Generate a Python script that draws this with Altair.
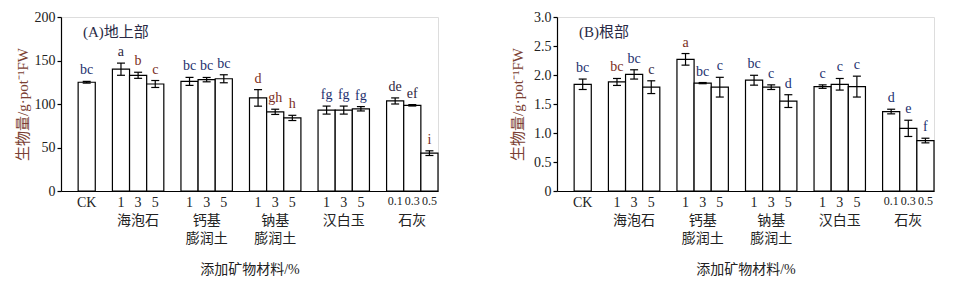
import altair as alt
import pandas as pd

# ---- data ----
groups = ["CK", "海泡石", "钙基\n膨润土", "钠基\n膨润土", "汉白玉", "石灰"]
doses = [["CK"], ["1", "3", "5"], ["1", "3", "5"], ["1", "3", "5"], ["1", "3", "5"], ["0.1", "0.3", "0.5"]]

shoot_mean = [125, 140, 133, 123, 126, 128, 129, 107, 91, 84, 93, 93, 94.5, 103.5, 98.5, 43.5]
shoot_err = [1, 7, 3.5, 4, 4.6, 2.5, 4.6, 9.5, 3, 3, 4.6, 4.6, 2.5, 3.5, 0.8, 2.7]
shoot_letters = ["bc", "a", "b", "c", "bc", "bc", "bc", "d", "gh", "h", "fg", "fg", "fg", "de", "ef", "i"]
shoot_tone = ["blue", "dark", "red", "red", "blue", "blue", "blue", "red", "red", "red",
              "blue", "blue", "blue", "dark", "dark", "red"]

root_mean = [1.84, 1.88, 2.01, 1.79, 2.27, 1.86, 1.79, 1.91, 1.79, 1.55, 1.80, 1.84, 1.80, 1.37, 1.08, 0.87]
root_err = [0.09, 0.06, 0.08, 0.11, 0.10, 0.01, 0.17, 0.085, 0.04, 0.11, 0.03, 0.10, 0.18, 0.04, 0.14, 0.04]
root_letters = ["bc", "bc", "bc", "c", "a", "bc", "c", "bc", "c", "d", "c", "c", "c", "d", "e", "f"]
root_tone = ["blue", "red", "blue", "dark", "red", "blue", "blue", "blue", "blue", "blue",
             "blue", "blue", "blue", "blue", "blue", "blue"]

shoot_ticks = [0, 50, 100, 150, 200]
root_ticks = [0, 0.5, 1.0, 1.5, 2.0, 2.5, 3.0]

# ---- build band domain with spacer slots ----
domain, keys, centers = [], [], []
for i, (g, ds) in enumerate(zip(groups, doses)):
    domain.append(" " * (i + 1))
    ks = ["CK"] if g == "CK" else [f"{i}|{d}" for d in ds]
    domain += ks
    keys += ks
    centers.append(ks[len(ks) // 2])

gdf = pd.DataFrame({"key": centers[1:], "name": groups[1:]})

FONT = "Liberation Serif, Noto Sans CJK SC"
tone_dom = ["blue", "red", "dark"]
tone_rng = ["#23306e", "#7a2d22", "#2e2540"]


def xenc():
    return alt.X(
        "key:N",
        scale=alt.Scale(domain=domain, paddingInner=0, paddingOuter=0),
        axis=alt.Axis(
            labelExpr="indexof(datum.value, '|') >= 0 ? split(datum.value, '|')[1] : datum.value",
            labelFontSize={"condition": {"test": "indexof(datum.value, '|0.') >= 0", "value": 12}, "value": 14},
            labelAngle=0, labelOverlap=False, ticks=False, labelPadding=4,
            domainColor="black", domainWidth=1.2, labelColor="#222",
            labelFont=FONT, title="添加矿物材料/%", titleFont=FONT, titleFontSize=14,
            titleFontWeight="normal", titleColor="#222", titlePadding=53,
        ),
    )


def yenc(field, ymax, ticks, tp, expr):
    return alt.Y(
        f"{field}:Q",
        scale=alt.Scale(domain=[0, ymax], nice=False),
        axis=alt.Axis(
            values=ticks, grid=False, tickSize=4, tickColor="black", tickWidth=1.2,
            domainColor="black", domainWidth=1.2, labelFontSize=14, labelFont=FONT,
            labelColor="#222", labelPadding=2, labelExpr=expr,
            title="生物量/g·pot⁻¹FW", titleFont=FONT, titleFontSize=15,
            titleFontWeight="normal", titleColor="#7b3f33", titlePadding=tp,
        ),
    )


def panel(mean, err, letters, tone, ymax, ticks, tp, expr, label):
    df = pd.DataFrame({
        "key": keys, "mean": mean,
        "lo": [m - e for m, e in zip(mean, err)],
        "hi": [m + e for m, e in zip(mean, err)],
        "letter": letters, "tone": tone,
    })
    base = alt.Chart(df)
    bars = base.mark_bar(fill="white", stroke="black", strokeWidth=1.2).encode(
        x=xenc(), y=yenc("mean", ymax, ticks, tp, expr))
    rule = base.mark_rule(color="black", strokeWidth=1.2).encode(
        x=xenc(), y=yenc("lo", ymax, ticks, tp, expr), y2="hi:Q")
    cap_lo = base.mark_tick(orient="horizontal", size=8, thickness=1.2, color="black", opacity=1).encode(
        x=xenc(), y=yenc("lo", ymax, ticks, tp, expr))
    cap_hi = base.mark_tick(orient="horizontal", size=8, thickness=1.2, color="black", opacity=1).encode(
        x=xenc(), y=yenc("hi", ymax, ticks, tp, expr))
    txt = base.mark_text(baseline="bottom", dy=-4, fontSize=14, font=FONT).encode(
        x=xenc(), y=yenc("hi", ymax, ticks, tp, expr), text="letter:N",
        color=alt.Color("tone:N", scale=alt.Scale(domain=tone_dom, range=tone_rng), legend=None))
    grp = alt.Chart(gdf).mark_text(baseline="top", fontSize=14, lineHeight=18, lineBreak="\n",
                                   font=FONT, color="#222").encode(
        x=xenc(), y=alt.value(197), text="name:N")
    ttl = alt.Chart(pd.DataFrame({"t": [label]})).mark_text(
        align="left", baseline="middle", fontSize=15, font=FONT, color="#2a2a45").encode(
        x=alt.value(22), y=alt.value(15), text="t:N")
    return alt.layer(bars, rule, cap_lo, cap_hi, txt, grp, ttl).properties(width=377, height=174)


left = panel(shoot_mean, shoot_err, shoot_letters, shoot_tone, 200, shoot_ticks, 4,
             "format(datum.value, 'd')", "(A)地上部")
right = panel(root_mean, root_err, root_letters, root_tone, 3.0, root_ticks, 8,
              "datum.value == 0 ? '0' : format(datum.value, '.1f')", "(B)根部")

chart = alt.hconcat(left, right, spacing=70).properties(
    padding={"left": 14, "top": 9, "right": 0, "bottom": 0}
).configure_view(strokeWidth=0).configure(background="white")

chart.save("out.html", embed_options={"renderer": "svg", "actions": False})
